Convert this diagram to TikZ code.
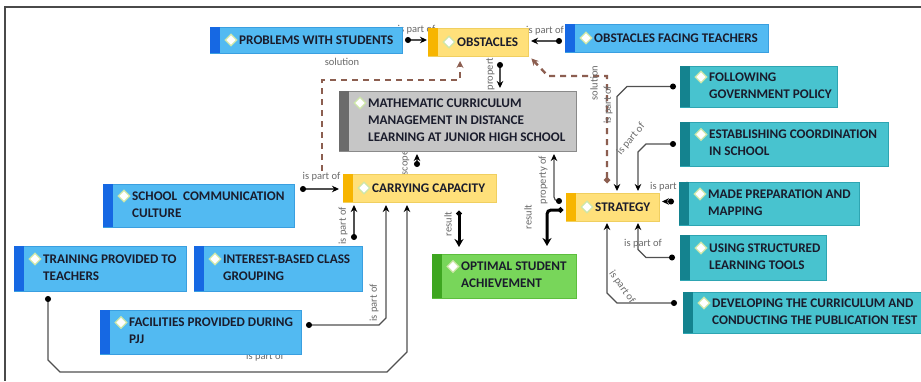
\documentclass[tikz,border=0pt]{standalone}
\usepackage{fontspec}
\setmainfont{Carlito}
\usetikzlibrary{arrows.meta,calc,shapes.geometric}
\pgfdeclarelayer{bg}
\pgfdeclarelayer{paper}
\pgfsetlayers{paper,bg,main}
\definecolor{blfill}{HTML}{52BAF2}\definecolor{blline}{HTML}{3A9FE0}\definecolor{blbar}{HTML}{1668E3}
\definecolor{yefill}{HTML}{FFE07A}\definecolor{yeline}{HTML}{F0CF60}\definecolor{yebar}{HTML}{F7B500}
\definecolor{gyfill}{HTML}{C6C6C6}\definecolor{gyline}{HTML}{8A8A8A}\definecolor{gybar}{HTML}{6B6B6B}
\definecolor{gnfill}{HTML}{78D65A}\definecolor{gnline}{HTML}{5DBE3E}\definecolor{gnbar}{HTML}{3EA620}
\definecolor{tefill}{HTML}{48C3CF}\definecolor{teline}{HTML}{2EA5B2}\definecolor{tebar}{HTML}{14838F}
\definecolor{gemline}{HTML}{CDE6A8}
\definecolor{txt}{HTML}{1A1C2C}
\definecolor{lblc}{HTML}{6A6A6A}
\definecolor{connc}{HTML}{505050}
\definecolor{solc}{HTML}{8C5E50}
\definecolor{framec}{HTML}{4A4A4A}
\tikzset{
 mapbox/.style={rectangle, inner sep=0pt, outer sep=0pt, line width=0.8pt},
 gem/.style={diamond, fill=white, draw=gemline, line width=1.2pt, minimum width=12pt, minimum height=12pt, inner sep=0pt},
 maptext/.style={anchor=west, align=left, inner sep=0pt, text=txt, font=\bfseries\fontsize{13.2}{17}\selectfont},
 lbl/.style={text=lblc, font=\fontsize{10.5}{11}\selectfont, inner sep=1pt},
 conn/.style={draw=connc, line width=1.2pt, {Circle[length=6pt,width=6pt,color=black]}-{Stealth[length=7pt,width=6.5pt,color=black]}},
 res/.style={draw=black, line width=3pt, {Circle[length=5pt,width=5pt]}-{Stealth[length=8pt,width=9pt]}},
 sol/.style={draw=solc, line width=2.4pt, dash pattern=on 6pt off 5pt},
}
\newcommand\mapnode[8]{%
 \pgfmathsetmacro\mnW{#4-#2}\pgfmathsetmacro\mnH{#5-#3}%
 \pgfmathsetmacro\mnCx{(#2+#4)/2}\pgfmathsetmacro\mnCy{(#3+#5)/2}%
 \pgfmathsetmacro\mnTy{\mnCy-(#7>1)*1}%
 \pgfmathsetmacro\mnDy{\mnTy-(#7-1)*8.5}%
 \node[mapbox, fill=#6fill, draw=#6line, minimum width=\mnW pt, minimum height=\mnH pt] (#1) at (\mnCx,\mnCy) {};
 \fill[#6bar] (#1.north west) rectangle ([xshift=10pt]#1.south west);
 \node[gem] (#1-gem) at (#2+21,\mnDy) {};
 \node[maptext] (#1-txt) at (#2+29,\mnTy) {#8};
}
\begin{document}
\begin{tikzpicture}[x=1pt,y=-1pt]
\useasboundingbox (0,0) rectangle (921,381);
\begin{pgfonlayer}{paper}
\fill[white] (0,0) rectangle (921,381);
\draw[framec, line width=1.6pt] (921,7) -- (5,7) -- (5,381);
\end{pgfonlayer}

\mapnode{PWS}{210}{27}{402}{53}{bl}{1}{PROBLEMS WITH STUDENTS}
\mapnode{OBS}{428}{28}{528}{56}{ye}{1}{OBSTACLES}
\mapnode{OFT}{565}{24}{768}{52}{bl}{1}{OBSTACLES FACING TEACHERS}
\mapnode{MATH}{339}{91}{576}{151}{gy}{3}{MATHEMATIC CURRICULUM\\MANAGEMENT IN DISTANCE\\LEARNING AT JUNIOR HIGH SCHOOL}
\mapnode{CC}{343}{174}{496}{202}{ye}{1}{CARRYING CAPACITY}
\mapnode{STR}{566}{193}{659}{221}{ye}{1}{STRATEGY}
\mapnode{OSA}{432}{254}{576}{298}{gn}{2}{OPTIMAL STUDENT\\ACHIEVEMENT}
\mapnode{SCC}{103}{184}{294}{227}{bl}{2}{SCHOOL\ \ COMMUNICATION\\CULTURE}
\mapnode{TPT}{14}{246}{186}{291}{bl}{2}{TRAINING PROVIDED TO\\TEACHERS}
\mapnode{IBG}{194}{246}{362}{291}{bl}{2}{INTEREST-BASED CLASS\\GROUPING}
\mapnode{FAC}{100}{310}{301}{354}{bl}{2}{FACILITIES PROVIDED DURING\\PJJ}
\mapnode{FGP}{680}{66}{837}{107}{te}{2}{FOLLOWING\\GOVERNMENT POLICY}
\mapnode{ESC}{680}{122}{888}{166}{te}{2}{ESTABLISHING COORDINATION\\IN SCHOOL}
\mapnode{MPM}{679}{182}{859}{225}{te}{2}{MADE PREPARATION AND\\MAPPING}
\mapnode{UST}{680}{235}{826}{280}{te}{2}{USING STRUCTURED\\LEARNING TOOLS}
\mapnode{DEV}{683}{292}{921}{333}{te}{2}{DEVELOPING THE CURRICULUM AND\\CONDUCTING THE PUBLICATION TEST}

\begin{pgfonlayer}{bg}
% PWS -> OBS
\coordinate (a1) at ($(PWS.east)+(3,0)$);
\draw[conn, shorten >=1pt] (a1) -- (a1 -| OBS.west) node[lbl, midway, above=4pt] {is part of};
% OFT -> OBS
\coordinate (b1) at ($(OFT.west)+(-3,3)$);
\draw[conn, shorten >=3pt] (b1) -- (b1 -| OBS.east) node[lbl, midway, above=4pt] {is part of};
% OBS -> MATH
\coordinate (c1) at ($(OBS.south east)+(-28,6)$);
\draw[conn, shorten >=3pt] (c1) -- (c1 |- MATH.north);
\node[lbl, rotate=90] (c-l) at ($(OBS.south east)+(-38,10)$) {property of};
% CC -> MATH
\coordinate (d1) at ($(CC.north west)+(74,-7)$);
\draw[conn, shorten >=3pt] (d1) -- (d1 |- MATH.south);
\node[lbl, rotate=90] (d-l) at ($(CC.north west)+(63,-11)$) {scope};
% CC -> OBS solution
\coordinate (e1) at ($(CC.north west)+(-21,-3)$);
\coordinate (e2) at ($(OBS.south west)+(32,24)$);
\draw[sol, -{Stealth[length=7pt,width=7pt]}, shorten >=5pt] (e1) |- (e2) -- (e2 |- OBS.south);
\node[lbl] (e-l) at ($(OBS.south west)+(-86,6)$) {solution};
% STR -> OBS solution
\coordinate (f1) at ($(STR.north west)+(41,-10)$);
\coordinate (f2) at ($(OBS.south east)+(20,20)$);
\draw[sol, {Circle[length=6pt,width=6pt]}-{Stealth[length=7pt,width=7pt]}, shorten >=2pt] (f1) |- (f2) -- ($(OBS.south east)+(2,1)$);
\node[lbl, rotate=90] (f-l) at ($(STR.north west)+(28,-110)$) {solution};
\node[lbl, rotate=90] (f-l2) at ($(STR.north west)+(42,-88)$) {is part of};
% FGP -> STR
\coordinate (g1) at ($(FGP.west)+(-4,0)$);
\coordinate (g2) at ($(STR.north west)+(51,0)$);
\coordinate (g3) at (g1 -| g2);
\draw[conn, shorten >=2pt] (g1) -- ($(g3)+(10,0)$) -- ($(g3)+(0,10)$) -- (g2);
% ESC -> STR
\coordinate (h1) at ($(ESC.west)+(-4,0)$);
\coordinate (h2) at ($(STR.north west)+(72,0)$);
\coordinate (h3) at (h1 -| h2);
\draw[conn, shorten >=2pt] (h1) -- ($(h3)+(8,0)$) -- ($(h3)+(0,8)$) -- (h2);
\node[lbl, rotate=50] (h-l) at ($(STR.north west)+(65,-54)$) {is part of};
% MPM -> STR
\coordinate (i1) at ($(MPM.west)+(-5,-2)$);
\draw[conn, shorten >=3pt] (i1) -- (i1 -| STR.east);
\node[lbl] (i-l) at ($(MPM.west)+(-10,-17)$) {is part of};
% UST -> STR
\coordinate (j1) at ($(UST.west)+(-5,0)$);
\coordinate (j2) at ($(STR.south west)+(72,0)$);
\coordinate (j3) at (j1 -| j2);
\draw[conn, shorten >=2pt] (j1) -- ($(j3)+(8,0)$) -- ($(j3)+(0,-8)$) -- (j2);
\node[lbl] (j-l) at ($(j2)+(5,23)$) {is part of};
% DEV -> STR
\coordinate (k1) at ($(DEV.north west)+(-6,11)$);
\coordinate (k2) at ($(STR.south west)+(41,0)$);
\coordinate (k3) at (k1 -| k2);
\draw[conn, shorten >=2pt] (k1) -- ($(k3)+(10,0)$) -- ($(k3)+(0,-10)$) -- (k2);
\node[lbl, rotate=-55] (k-l) at ($(k2)+(15,66)$) {is part of};
% STR -> MATH
\coordinate (l1) at ($(STR.west)+(-4,-6)$);
\coordinate (l2) at ($(MATH.south east)+(-22,0)$);
\draw[conn, rounded corners=4pt, shorten >=3pt] (l1) -| (l2);
\node[lbl, rotate=90] (l-l) at ($(l2)+(-11,29)$) {property of};
% STR -> OSA
\coordinate (m1) at ($(STR.west)+(-3,3)$);
\coordinate (m2) at ($(OSA.north east)+(-29,0)$);
\draw[res, rounded corners=4pt, shorten >=8pt] (m1) -| (m2);
\node[lbl, rotate=90] (m-l) at ($(m2)+(-19,-37)$) {result};
% CC -> OSA
\coordinate (n1) at ($(CC.south west)+(116,9)$);
\draw[res, shorten >=7pt] (n1) -- (n1 |- OSA.north);
\node[lbl, rotate=90] (n-l) at ($(n1)+(-11,13)$) {result};
% SCC -> CC
\coordinate (o1) at ($(SCC.north east)+(6,5)$);
\draw[conn, shorten >=4pt] (o1) -- (o1 -| CC.west) node[lbl, midway, above=6pt] {is part of};
% IBG -> CC
\coordinate (p1) at ($(IBG.north east)+(-8,-6)$);
\draw[conn, shorten >=3pt] (p1) -- (p1 |- CC.south);
\node[lbl, rotate=90] (p-l) at ($(p1)+(-11,-14)$) {is part of};
% FAC -> CC
\coordinate (q1) at ($(FAC.north east)+(5,15)$);
\coordinate (q2) at ($(CC.south west)+(43,0)$);
\coordinate (q3) at (q1 -| q2);
\draw[conn, shorten >=3pt] (q1) -- ($(q3)+(-7,0)$) -- ($(q3)+(0,-7)$) -- (q2);
\node[lbl, rotate=90] (q-l) at ($(q3)+(-12,-22)$) {is part of};
% TPT -> CC
\coordinate (r1) at ($(TPT.south west)+(34,5)$);
\coordinate (r2) at ($(CC.south west)+(64,0)$);
\coordinate (r3) at ($(r1)+(0,76)$);
\coordinate (r4) at (r3 -| r2);
\draw[conn, shorten >=3pt] (r1) -- ($(r3)+(0,-12)$) -- ($(r3)+(12,0)$) -- ($(r4)+(-20,0)$) -- ($(r4)+(0,-20)$) -- (r2);
\node[lbl] (r-l) at ($(r3)+(217,-15)$) {is part of};
\end{pgfonlayer}
\end{tikzpicture}
\end{document}
